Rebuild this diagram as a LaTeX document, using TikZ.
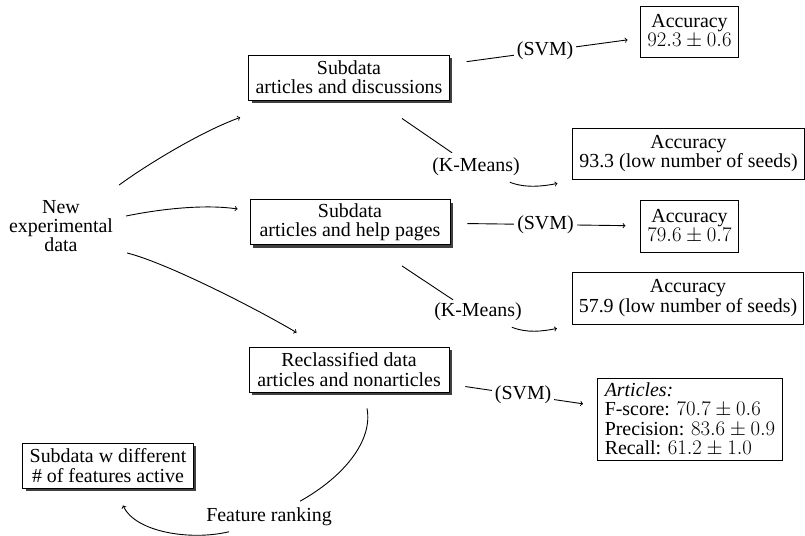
\documentclass[tikz,border=0pt]{standalone}
\usepackage{fontspec}
\setmainfont{Liberation Serif}
\usetikzlibrary{shadows}
\begin{document}
\begin{tikzpicture}[x=1pt,y=-1pt,
  every node/.style={font=\fontsize{19.9}{19.3}\selectfont},
  box/.style={draw, fill=white, line width=0.9pt, align=center, inner xsep=6.5pt, inner ysep=3pt},
  sbox/.style={box, inner xsep=7pt, drop shadow={shadow xshift=3pt, shadow yshift=-3pt, fill=black!75, opacity=1}},
  lbl/.style={fill=white, inner sep=3pt},
  conn/.style={line width=0.9pt},
  arr/.style={conn, ->}
]
\useasboundingbox (0,0) rectangle (805,535);

% main boxes
\node[sbox, minimum width=200pt, minimum height=45pt] (b1) at (349,77.5) {Subdata\\articles and discussions};
\node[sbox, minimum width=200pt, minimum height=45pt] (b2) at (350,222) {Subdata\\articles and help pages};
\node[sbox, minimum width=200pt, minimum height=45pt] (b3) at (349,369.5) {Reclassified data\\articles and nonarticles};
\node[sbox, minimum height=45pt] (sw) at (108,465.5) {Subdata w different\\\# of features active};

\node[align=center, inner sep=3pt] (new) at (61,226) {New\\experimental\\data};

% result boxes
\node[box, minimum width=97pt, minimum height=51pt] (acc1) at (689.5,31.5) {Accuracy\\$92.3\pm0.6$};
\node[box, minimum height=51pt] (acc2) at (688.5,153.5) {Accuracy\\93.3 (low number of seeds)};
\node[box, minimum width=97pt, minimum height=52pt] (acc3) at (689.5,226.5) {Accuracy\\$79.6\pm0.7$};
\node[box, minimum height=52pt] (acc4) at (688,298) {Accuracy\\57.9 (low number of seeds)};
\node[box, align=left, inner xsep=7.5pt, inner ysep=4.5pt] (art) at (690,419.5) {\textit{Articles:}\\F-score: $70.7\pm0.6$\\Precision: $83.6\pm0.9$\\Recall: $61.2\pm1.0$};

% labels
\node[lbl] (km1) at (476,167) {(K-Means)};
\node[lbl] (km2) at (478,312) {(K-Means)};
\node[lbl] (fr) at (269,516.5) {Feature ranking};

% from new data
\draw[arr] ([xshift=3pt,yshift=41pt]new.east) .. controls (145,166) and (200,132) .. ([xshift=-8pt,yshift=-17pt]b1.south west);
\draw[arr] ([xshift=10pt,yshift=10pt]new.east) .. controls (160,209) and (205,204) .. ([xshift=-12pt,yshift=13pt]b2.west);
\draw[arr] ([xshift=11pt,yshift=-27pt]new.east) .. controls (167,263) and (257,309) .. ([xshift=48pt,yshift=14pt]b3.north west);

% SVM edges
\draw[arr, shorten <=17pt, shorten >=13pt] (b1) -- node[lbl]{(SVM)} (acc1);
\draw[arr, shorten <=17pt, shorten >=15pt] (b2) -- node[lbl]{(SVM)} (acc3);
\draw[arr, shorten <=16pt, shorten >=14pt] (b3) -- node[lbl]{(SVM)} (art);

% K-Means edges
\draw[conn] ([xshift=53pt,yshift=-18pt]b1.south) -- ([xshift=-24pt,yshift=2pt]km1.north);
\draw[arr] ([xshift=-13pt,yshift=-3pt]km1.south east) .. controls +(15,6) and +(-15,3) .. ([xshift=-15pt,yshift=-4pt]acc2.south west);
\draw[conn] ([xshift=52pt,yshift=-21pt]b2.south) -- ([xshift=-25pt]km2.north);
\draw[arr] ([xshift=-13pt,yshift=-3pt]km2.south east) .. controls +(15,6) and +(-15,3) .. ([xshift=-15pt,yshift=-4pt]acc4.south west);

% feature ranking loop
\draw[conn] ([xshift=18pt,yshift=-16pt]b3.south) .. controls (373,440) and (345,476) .. ([xshift=31pt,yshift=3pt]fr.north);
\draw[arr] ([xshift=-40pt,yshift=-3pt]fr.south) .. controls (190,541) and (135,532) .. ([xshift=15pt,yshift=-17pt]sw.south);
\end{tikzpicture}
\end{document}
